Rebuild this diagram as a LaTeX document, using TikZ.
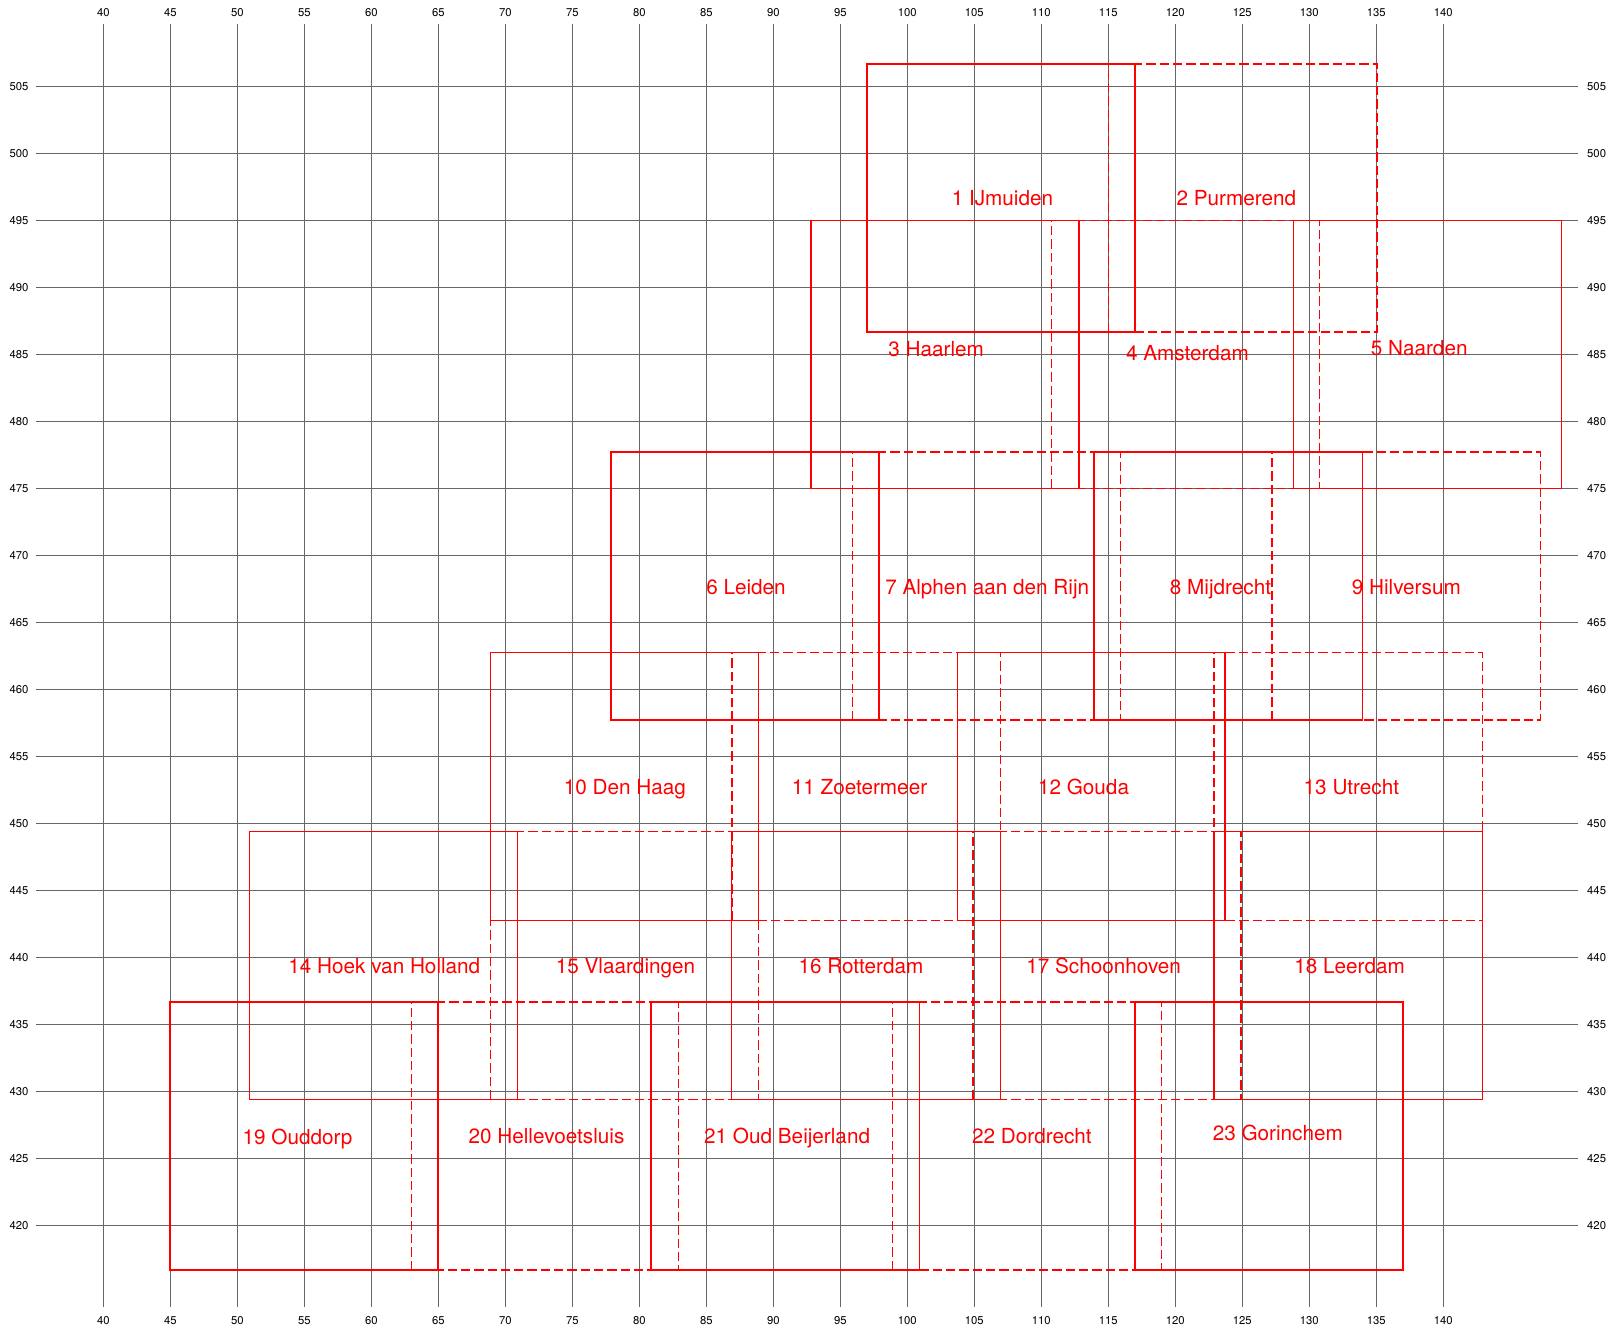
\documentclass[tikz,border=0pt]{standalone}
\usepackage{fontspec}
\setmainfont{TeX Gyre Heros}
\begin{document}
\begin{tikzpicture}[x=0.2cm,y=0.2cm,
  gridline/.style={black!60,line width=0.3pt},
  axlab/.style={font=\fontsize{4.8}{5}\selectfont,inner sep=0pt,text height=3.45pt,text depth=0pt},
  sheet/.style={red,line width=0.6pt},
  sheetdash/.style={sheet,dash pattern=on 3.95pt off 1.7pt},
  lab/.style={red,font=\fontsize{8.8}{10}\selectfont,inner sep=0pt,text height=6.3pt,text depth=0pt}]

\useasboundingbox (32.29,412.26) rectangle (153.26,511.44);

% grid and axis labels
\foreach \x in {40,45,...,140} {
  \draw[gridline] (\x,413.9) -- (\x,509.65);
  \node[axlab] (top\x) at (\x,510.47) {\x};
  \node[axlab] (bot\x) at (\x,412.87) {\x};
}
\foreach \y in {420,425,...,505} {
  \draw[gridline] (34.98,\y) -- (150.07,\y);
  \node[axlab,anchor=east] (lft\y) at (34.45,\y) {\y};
  \node[axlab,anchor=west] (rgt\y) at (150.7,\y) {\y};
}

% row 1
\draw[sheet]     (97,486.67) rectangle (117,506.67);
\draw[sheetdash] (115,486.67) rectangle (135.05,506.67);
% row 2
\draw[sheet]     (92.8,475) rectangle (112.8,495);
\draw[sheetdash] (110.77,475) rectangle (130.77,495);
\draw[sheet]     (128.8,475) rectangle (148.8,495);
% row 3
\draw[sheet]     (77.9,457.7) rectangle (97.9,477.7);
\draw[sheetdash] (95.9,457.7) rectangle (115.9,477.7);
\draw[sheet]     (113.92,457.7) rectangle (133.95,477.7);
\draw[sheetdash] (127.22,457.7) rectangle (147.25,477.7);
% row 4
\draw[sheet]     (68.89,442.75) rectangle (88.89,462.75);
\draw[sheetdash] (86.92,442.75) rectangle (106.95,462.75);
\draw[sheet]     (103.75,442.75) rectangle (123.72,462.75);
\draw[sheetdash] (122.88,442.75) rectangle (142.9,462.75);
% row 5
\draw[sheet]     (50.89,429.4) rectangle (70.89,449.4);
\draw[sheetdash] (68.89,429.4) rectangle (88.89,449.4);
\draw[sheet]     (86.89,429.4) rectangle (106.94,449.4);
\draw[sheetdash] (104.9,429.4) rectangle (124.9,449.4);
\draw[sheet]     (122.88,429.4) rectangle (142.9,449.4);
% row 6
\draw[sheet]     (44.97,416.66) rectangle (64.98,436.66);
\draw[sheetdash] (62.98,416.66) rectangle (82.91,436.66);
\draw[sheet]     (80.86,416.66) rectangle (100.91,436.66);
\draw[sheetdash] (98.9,416.66) rectangle (118.97,436.66);
\draw[sheet]     (116.98,416.66) rectangle (137,436.66);

% labels
\node[lab] (l1) at (107.1,496.65) {1 IJmuiden};
\node[lab] (l2) at (124.55,496.65) {2 Purmerend};
\node[lab] (l3) at (102.15,485.38) {3 Haarlem};
\node[lab] (l4) at (120.9,485.05) {4 Amsterdam};
\node[lab] (l5) at (138.2,485.47) {5 Naarden};
\node[lab] (l6) at (87.96,467.65) {6 Leiden};
\node[lab] (l7) at (105.96,467.65) {7 Alphen aan den Rijn};
\node[lab] (l8) at (123.37,467.63) {8 Mijdrecht};
\node[lab] (l9) at (137.24,467.63) {9 Hilversum};
\node[lab] (l10) at (78.93,452.7) {10 Den Haag};
\node[lab] (l11) at (96.43,452.7) {11 Zoetermeer};
\node[lab] (l12) at (113.15,452.7) {12 Gouda};
\node[lab] (l13) at (133.14,452.7) {13 Utrecht};
\node[lab] (l14) at (60.97,439.35) {14 Hoek van Holland};
\node[lab] (l15) at (78.97,439.37) {15 Vlaardingen};
\node[lab] (l16) at (96.54,439.37) {16 Rotterdam};
\node[lab] (l17) at (114.65,439.37) {17 Schoonhoven};
\node[lab] (l18) at (133.0,439.37) {18 Leerdam};
\node[lab] (l19) at (54.49,426.61) {19 Ouddorp};
\node[lab] (l20) at (73.07,426.65) {20 Hellevoetsluis};
\node[lab] (l21) at (91.03,426.65) {21 Oud Beijerland};
\node[lab] (l22) at (109.3,426.64) {22 Dordrecht};
\node[lab] (l23) at (127.65,426.87) {23 Gorinchem};
\end{tikzpicture}
\end{document}
